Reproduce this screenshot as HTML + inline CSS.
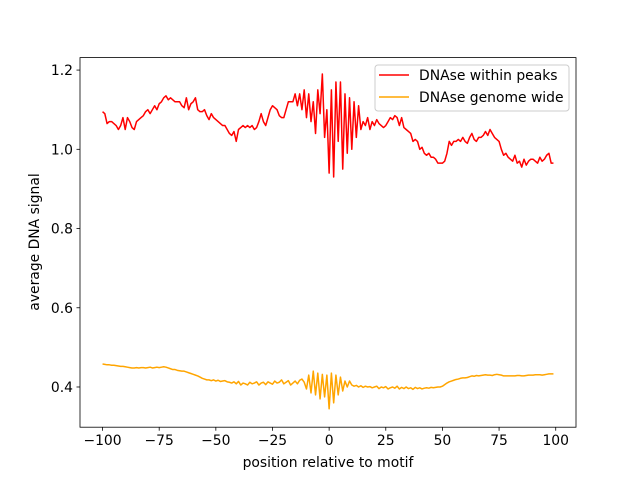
<!DOCTYPE html>
<html><head><meta charset="utf-8"><style>
body{margin:0;background:#fff}
svg{display:block;font-family:"DejaVu Sans","Liberation Sans",sans-serif}
</style></head><body>
<svg id="chart" width="640" height="480" viewBox="0 0 640 480" xmlns="http://www.w3.org/2000/svg">
<rect width="640" height="480" fill="#fff"/>
<g id="plot"></g>
<rect x="80" y="57.6" width="496" height="369.6" fill="none" stroke="#000" stroke-width="0.8"/>
<g id="axes"></g>
<text x="328" y="467" font-size="13.9" text-anchor="middle">position relative to motif</text>
<text transform="translate(39,242) rotate(-90)" font-size="13.9" text-anchor="middle">average DNA signal</text>
<g>
<rect x="375" y="65" width="194" height="46" rx="3" fill="#fff" fill-opacity="0.8" stroke="#ccc" stroke-width="1"/>
<line x1="379" y1="75" x2="409" y2="75" stroke="#ff0000" stroke-width="1.5"/>
<text x="419" y="80" font-size="13.9">DNAse within peaks</text>
<line x1="379" y1="97" x2="409" y2="97" stroke="#ffa500" stroke-width="1.5"/>
<text x="419" y="102" font-size="13.9">DNAse genome wide</text>
</g>
</svg>
<script>
const xTicks=[-100,-75,-50,-25,0,25,50,75,100];
const yTicks=[0.4,0.6,0.8,1.0,1.2];
const yTickLabels=["0.4","0.6","0.8","1.0","1.2"];
const peaks=[1.095,1.09,1.065,1.07,1.07,1.065,1.06,1.05,1.06,1.08,
1.05,1.08,1.07,1.055,1.05,1.07,1.075,1.08,1.085,1.095,
1.10,1.09,1.10,1.11,1.10,1.115,1.12,1.13,1.135,1.125,
1.13,1.125,1.12,1.12,1.12,1.11,1.105,1.13,1.10,1.115,
1.12,1.13,1.10,1.095,1.095,1.10,1.085,1.075,1.09,1.08,
1.075,1.07,1.065,1.06,1.06,1.05,1.04,1.035,1.045,1.02,
1.05,1.055,1.06,1.055,1.06,1.055,1.06,1.05,1.055,1.07,
1.09,1.07,1.06,1.08,1.10,1.11,1.105,1.10,1.085,1.08,
1.08,1.10,1.12,1.12,1.12,1.14,1.11,1.14,1.10,1.15,
1.08,1.14,1.07,1.12,1.04,1.15,1.09,1.19,1.03,1.10,
0.94,1.15,0.93,1.17,1.02,1.17,0.95,1.14,0.99,1.13,
1.00,1.12,1.03,1.11,1.05,1.07,1.06,1.08,1.05,1.07,
1.06,1.075,1.065,1.06,1.055,1.06,1.07,1.08,1.075,1.085,
1.08,1.06,1.08,1.055,1.05,1.045,1.04,1.02,1.025,1.02,
1.00,1.005,0.99,0.985,0.99,0.98,0.98,0.975,0.965,0.965,
0.965,0.97,0.99,1.02,1.01,1.02,1.02,1.025,1.02,1.03,
1.02,1.015,1.03,1.04,1.025,1.02,1.03,1.03,1.035,1.045,
1.035,1.05,1.04,1.03,1.025,1.02,1.00,0.985,0.99,0.98,
0.975,0.97,0.985,0.965,0.97,0.955,0.975,0.96,0.97,0.975,
0.975,0.97,0.965,0.98,0.97,0.975,0.985,0.99,0.965,0.965];
const genome=[.458,.457,.456,.456,.455,.455,.454,.453,.452,.452,
.451,.450,.449,.448,.448,.449,.448,.449,.449,.448,
.449,.450,.448,.449,.450,.449,.450,.451,.450,.448,
.446,.444,.444,.442,.441,.440,.440,.438,.436,.434,
.432,.430,.428,.425,.422,.420,.418,.418,.416,.418,
.415,.417,.414,.415,.416,.413,.412,.410,.413,.408,
.414,.405,.410,.408,.405,.412,.408,.410,.413,.405,
.410,.412,.406,.413,.410,.407,.415,.410,.412,.418,
.408,.412,.416,.405,.410,.415,.408,.417,.420,.412,
.395,.430,.385,.440,.380,.435,.370,.432,.375,.430,
.345,.435,.360,.430,.380,.425,.390,.415,.400,.415,
.405,.402,.404,.400,.403,.399,.402,.400,.401,.398,
.400,.402,.396,.400,.398,.401,.395,.398,.400,.397,
.402,.395,.399,.396,.400,.396,.398,.394,.399,.396,
.398,.395,.397,.398,.397,.399,.398,.399,.400,.400,
.402,.406,.410,.413,.415,.417,.419,.420,.422,.423,
.423,.424,.426,.428,.427,.429,.428,.429,.430,.431,
.430,.430,.429,.431,.432,.431,.430,.428,.428,.428,
.428,.428,.428,.429,.429,.428,.428,.429,.430,.430,
.430,.431,.431,.431,.430,.431,.432,.433,.433,.433];
const xStart=-100;
const NS="http://www.w3.org/2000/svg";
const X0=80,X1=576,Y0=57.6,Y1=427.2;
const xMin=-109.95,xMax=108.95,yMin=0.2985,yMax=1.2315;
function sx(v){return X0+(v-xMin)/(xMax-xMin)*(X1-X0);}
function sy(v){return Y1-(v-yMin)/(yMax-yMin)*(Y1-Y0);}
const plot=document.getElementById('plot'),axes=document.getElementById('axes');
function line(arr,color,name){
  const p=document.createElementNS(NS,'path');
  p.setAttribute('d',arr.map((v,i)=>(i?'L':'M')+sx(xStart+i).toFixed(2)+','+sy(v).toFixed(2)).join(''));
  p.setAttribute('fill','none');p.setAttribute('stroke',color);p.setAttribute('stroke-width','1.5');p.setAttribute('stroke-linejoin','round');
  
  
  plot.appendChild(p);
}
line(peaks,'#ff0000','peaks-line');
line(genome,'#ffa500','genome-line');
xTicks.forEach(t=>{
  const x=sx(t);
  const l=document.createElementNS(NS,'line');
  l.setAttribute('x1',x);l.setAttribute('x2',x);l.setAttribute('y1',Y1);l.setAttribute('y2',Y1+3.5);l.setAttribute('stroke','#000');l.setAttribute('stroke-width','0.8');
  
  
  axes.appendChild(l);
  const tx=document.createElementNS(NS,'text');
  tx.setAttribute('x',x);tx.setAttribute('y',Y1+18);tx.setAttribute('font-size','13.9');tx.setAttribute('text-anchor','middle');
  tx.textContent=(t<0?'\u2212'+(-t):String(t));
  
  
  axes.appendChild(tx);
});
yTicks.forEach((t,i)=>{
  const y=sy(t);
  const l=document.createElementNS(NS,'line');
  l.setAttribute('x1',X0-3.5);l.setAttribute('x2',X0);l.setAttribute('y1',y);l.setAttribute('y2',y);l.setAttribute('stroke','#000');l.setAttribute('stroke-width','0.8');
  
  
  axes.appendChild(l);
  const tx=document.createElementNS(NS,'text');
  tx.setAttribute('x',X0-7);tx.setAttribute('y',y+5);tx.setAttribute('font-size','13.9');tx.setAttribute('text-anchor','end');
  tx.textContent=yTickLabels[i];
  
  
  axes.appendChild(tx);
});
</script>
</body></html>
